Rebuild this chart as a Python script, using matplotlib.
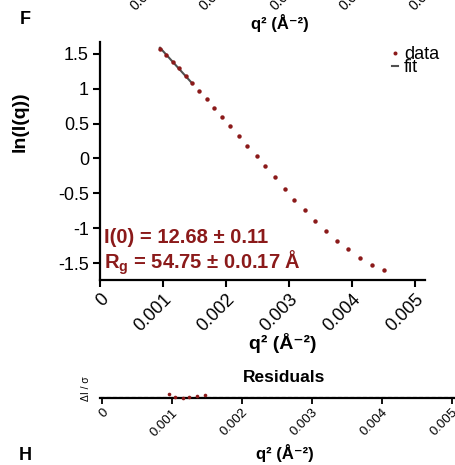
import numpy as np
import matplotlib
matplotlib.use("Agg")
import matplotlib.pyplot as plt

plt.rcParams['font.family'] = ['Liberation Sans', 'DejaVu Sans']
plt.rcParams['mathtext.fontset'] = 'custom'
plt.rcParams['mathtext.rm'] = 'Liberation Sans'
plt.rcParams['mathtext.bf'] = 'Liberation Sans:bold'

# Guinier plot data: q^2 (1/A^2) vs ln(I(q))
q2 = [0.000952, 0.001048, 0.001154, 0.001249, 0.001360, 0.001465,
      0.001576, 0.001694, 0.001814, 0.001941, 0.002068, 0.002206,
      0.002338, 0.002487, 0.002624, 0.002773, 0.002932, 0.003084,
      0.003254, 0.003417, 0.003592, 0.003767, 0.003937, 0.004132,
      0.004313, 0.004508]
lnI = [1.571, 1.486, 1.390, 1.300, 1.190, 1.076,
       0.971, 0.857, 0.724, 0.590, 0.467, 0.324,
       0.181, 0.039, -0.114, -0.267, -0.433, -0.590,
       -0.743, -0.900, -1.043, -1.181, -1.304, -1.429,
       -1.524, -1.600]

# fit parameters, fit uses the first points only
I0 = 12.68
Rg = 54.75
n_fit = 6
resid = [2.4, 0.0, -1.3, -0.6, 1.0, 1.4]

xticks = [0, 0.001, 0.002, 0.003, 0.004, 0.005]
xticklabels = ['0', '0.001', '0.002', '0.003', '0.004', '0.005']
yticks = [1.5, 1, 0.5, 0, -0.5, -1, -1.5]
yticklabels = ['1.5', '1', '0.5', '0', '-0.5', '-1', '-1.5']

red = '#8b1a1a'
W, H = 456, 465

def box(x0, y0, x1, y1):
    # pixel box (top-left origin) -> figure fraction
    return [x0 / W, 1 - y1 / H, (x1 - x0) / W, (y1 - y0) / H]

def ftext(x, y, s, **kw):
    return fig.text(x / W, 1 - y / H, s, ha=kw.pop('ha', 'center'),
                    va=kw.pop('va', 'center'), **kw)

fig = plt.figure(figsize=(W / 100, H / 100), dpi=100)

# ---- main Guinier axes ----
ax = fig.add_axes(box(100, 42, 425, 280))
qfit = np.array(q2[:n_fit])
fit = np.log(I0) - Rg ** 2 / 3 * qfit
ax.plot(qfit, fit, color='#505050', lw=1.5, zorder=2, label='fit')
ax.plot(q2, lnI, 'o', color=red, ms=3.2, mew=0, zorder=3, label='data')
ax.set_xlim(0, 0.005159)
ax.set_ylim(-1.743, 1.671)
ax.set_xticks(xticks)
ax.set_xticklabels(xticklabels, rotation=45, ha='right', rotation_mode='anchor')
ax.set_yticks(yticks)
ax.set_yticklabels(yticklabels)
ax.tick_params(direction='out', length=5, width=1.5, labelsize=13, pad=3)
for s in ['top', 'right']:
    ax.spines[s].set_visible(False)
for s in ['left', 'bottom']:
    ax.spines[s].set_linewidth(1.6)
ftext(20, 122, 'ln(I(q))', fontsize=14, fontweight='bold', rotation=90)
ftext(283, 343, 'q² (Å⁻²)', fontsize=14, fontweight='bold')

ax.text(0.012, 0.178, 'I(0) = 12.68 ± 0.11', transform=ax.transAxes,
        color=red, fontsize=14.5, fontweight='bold', va='center')
ax.text(0.012, 0.072, r'R$_\mathbf{g}$ = 54.75 ± 0.0.17 Å', transform=ax.transAxes,
        color=red, fontsize=14.5, fontweight='bold', va='center')

h, l = ax.get_legend_handles_labels()
ax.legend(h[::-1], l[::-1], loc='upper left', bbox_to_anchor=(383 / W, 1 - 37 / H),
          bbox_transform=fig.transFigure, frameon=False, fontsize=13,
          handlelength=0.35, handletextpad=0.3, labelspacing=-0.2,
          borderpad=0, markerscale=0.9)

# ---- residuals strip ----
rx = fig.add_axes(box(100, 390.3, 470, 398.3))
rx.axhline(0, color='#999999', lw=0.9, ls=(0, (3, 2)), zorder=1)
rx.plot(q2[:n_fit], resid, 'o', color=red, ms=2.6, mew=0, clip_on=False, zorder=3)
rx.set_xlim(-0.0000286, 0.005257)
rx.set_ylim(-1.6, 6.4)
rx.set_yticks([])
rx.set_xticks(xticks)
rx.set_xticklabels(xticklabels, rotation=45, ha='right', rotation_mode='anchor')
rx.tick_params(axis='x', direction='out', length=4, width=1.3, labelsize=9.5, pad=2)
for s in ['top', 'right', 'left']:
    rx.spines[s].set_visible(False)
rx.spines['bottom'].set_linewidth(1.6)
ftext(284, 378, 'Residuals', fontsize=12.5, fontweight='bold')
ftext(86, 389, 'ΔI / σ', fontsize=7.5, rotation=90)
ftext(285, 453, 'q² (Å⁻²)', fontsize=12, fontweight='bold')

# tick labels of the panel above, cut by the top edge
for k, xp in enumerate([136, 205, 275, 345, 415]):
    ftext(xp, 11, xticklabels[k + 1], fontsize=10, rotation=45,
          rotation_mode='anchor', ha='left', va='baseline')
ftext(280, 23, 'q² (Å⁻²)', fontsize=12, fontweight='bold')

ftext(25, 20, 'F', fontsize=13, fontweight='bold')
ftext(25, 455, 'H', fontsize=13, fontweight='bold')

fig.savefig('out.png', dpi=100)
